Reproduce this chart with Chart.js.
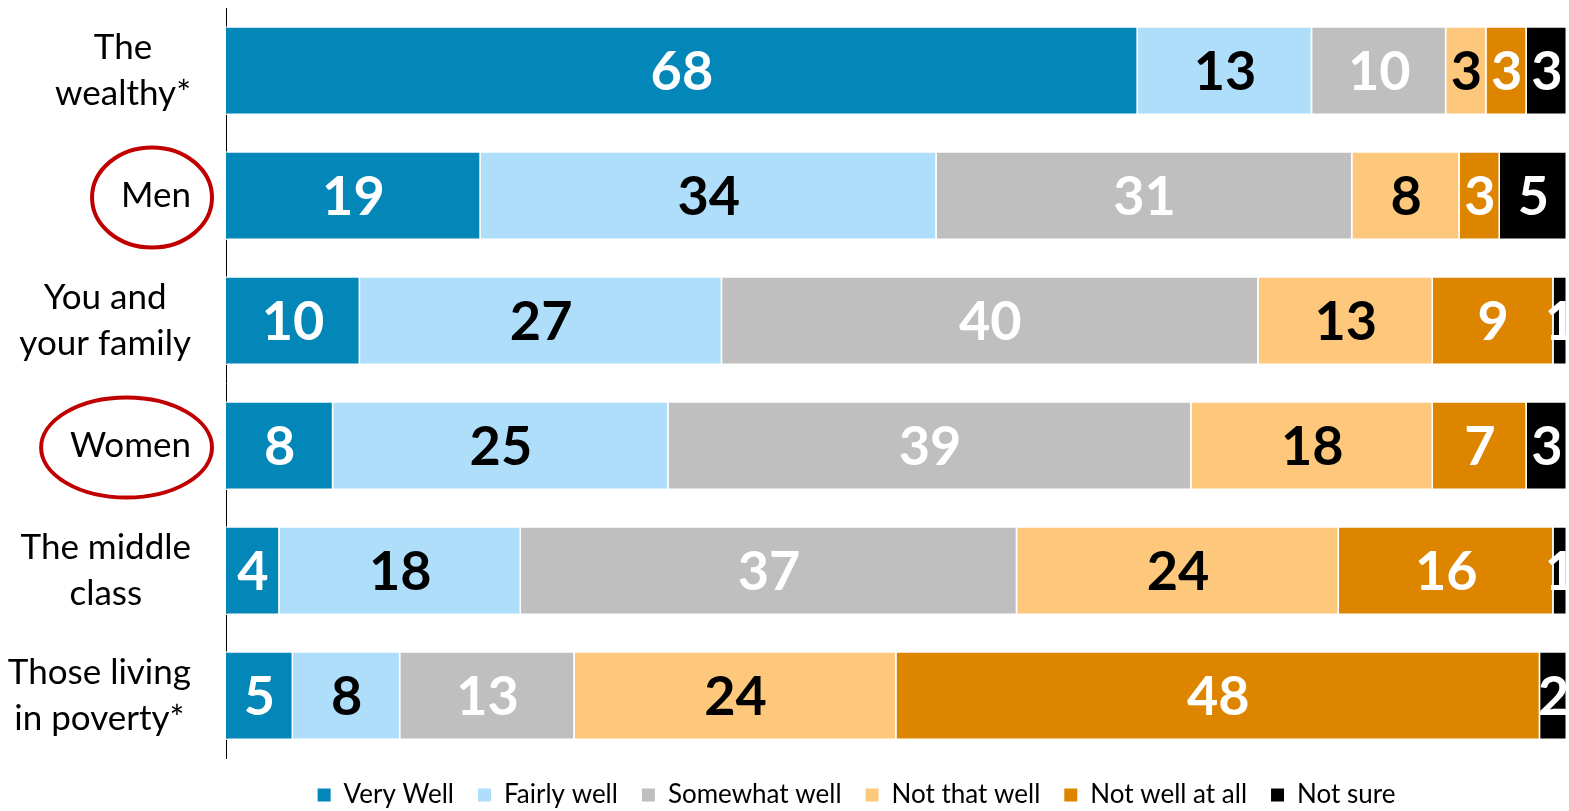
<!DOCTYPE html>
<html>
<head>
<meta charset="utf-8">
<script src="https://cdn.jsdelivr.net/npm/chart.js@4/dist/chart.umd.min.js"></script>
<style>
  html, body { margin: 0; padding: 0; background: #fff; }
  #wrap { width: 1569px; height: 811px; position: relative; }
</style>
</head>
<body>
<div id="wrap"><canvas id="chart"></canvas></div>
<script>
// ===== DATA =====
const categories = [
    ['The', 'wealthy*'],
    ['Men'],
    ['You and', 'your family'],
    ['Women'],
    ['The middle', 'class'],
    ['Those living', 'in poverty*']
];
const circled = ['Men', 'Women'];

const veryWell     = [68, 19, 10, 8, 4, 5];
const fairlyWell   = [13, 34, 27, 25, 18, 8];
const somewhatWell = [10, 31, 40, 39, 37, 13];
const notThatWell  = [3, 8, 13, 18, 24, 24];
const notWellAtAll = [3, 3, 9, 7, 16, 48];
const notSure      = [3, 5, 1, 3, 1, 2];

const seriesNames  = ['Very Well', 'Fairly well', 'Somewhat well', 'Not that well', 'Not well at all', 'Not sure'];
const seriesColors = ['#0387b8', '#afdefb', '#bfbfbf', '#fec87c', '#de8500', '#000000'];
const labelColors  = ['#fff', '#000', '#fff', '#000', '#fff', '#fff'];

const FONT = 'Lato, "Open Sans", sans-serif';

// ===== PLUGINS =====
// segment values in the middle of each bar piece
const valueLabels = {
    id: 'valueLabels',
    afterDatasetsDraw(chart) {
        const ctx = chart.ctx;
        ctx.save();
        ctx.font = `bold 54px ${FONT}`;
        ctx.textAlign = 'center';
        ctx.textBaseline = 'middle';
        chart.data.datasets.forEach((ds, di) => {
            chart.getDatasetMeta(di).data.forEach((bar, i) => {
                const p = bar.getProps(['x', 'y', 'base'], true);
                ctx.fillStyle = labelColors[di];
                ctx.fillText(ds.data[i], (p.x + p.base) / 2, p.y + 2);
            });
        });
        ctx.restore();
    }
};

// category names, lines centred in a right-aligned block, red rings round some
const categoryLabels = {
    id: 'categoryLabels',
    afterDraw(chart) {
        const ctx = chart.ctx;
        const yScale = chart.scales.y;
        const right = 191, lineH = 46;
        ctx.save();
        ctx.font = `35px ${FONT}`;
        ctx.fillStyle = '#000';
        ctx.textAlign = 'center';
        ctx.textBaseline = 'middle';
        categories.forEach((lines, i) => {
            const cy = yScale.getPixelForValue(i);
            const blockW = Math.max(...lines.map(l => ctx.measureText(l).width));
            const cx = right - blockW / 2;
            lines.forEach((l, k) => {
                ctx.fillText(l, cx, cy + (k - (lines.length - 1) / 2) * lineH);
            });
            if (lines.length === 1 && circled.includes(lines[0])) {
                ctx.beginPath();
                ctx.ellipse(cx - 4, cy + 2, blockW / 2 + 25, 50, 0, 0, Math.PI * 2);
                ctx.strokeStyle = '#c00000';
                ctx.lineWidth = 4;
                ctx.stroke();
            }
        });
        ctx.restore();
    }
};

// ===== CHART =====
const seriesData = [veryWell, fairlyWell, somewhatWell, notThatWell, notWellAtAll, notSure];

new Chart(document.getElementById('chart'), {
    type: 'bar',
    data: {
        labels: categories.map(c => c.join(' ')),
        datasets: seriesData.map((d, i) => ({
            label: seriesNames[i],
            data: d,
            backgroundColor: seriesColors[i],
            borderColor: '#ffffff',
            borderWidth: 1.5,
            categoryPercentage: 0.71,
            barPercentage: 1
        }))
    },
    options: {
        indexAxis: 'y',
        responsive: true,
        maintainAspectRatio: false,
        animation: false,
        layout: { padding: { left: 146, right: 2, top: 8, bottom: -7 } },
        scales: {
            x: { stacked: true, min: 0, max: 100, display: false },
            y: {
                stacked: true,
                grid: { display: false, drawTicks: false },
                border: { display: true, color: '#000', width: 1 },
                ticks: { display: false },
                afterFit(scale) { scale.width = 80; }
            }
        },
        plugins: {
            tooltip: { enabled: false },
            legend: {
                position: 'bottom',
                labels: {
                    boxWidth: 13,
                    boxHeight: 13,
                    padding: 24,
                    color: '#000',
                    font: { family: FONT, size: 26 },
                    generateLabels(chart) {
                        return Chart.defaults.plugins.legend.labels.generateLabels(chart)
                            .map(l => ({ ...l, lineWidth: 0, strokeStyle: l.fillStyle }));
                    }
                }
            }
        }
    },
    plugins: [valueLabels, categoryLabels]
});
</script>
</body>
</html>
